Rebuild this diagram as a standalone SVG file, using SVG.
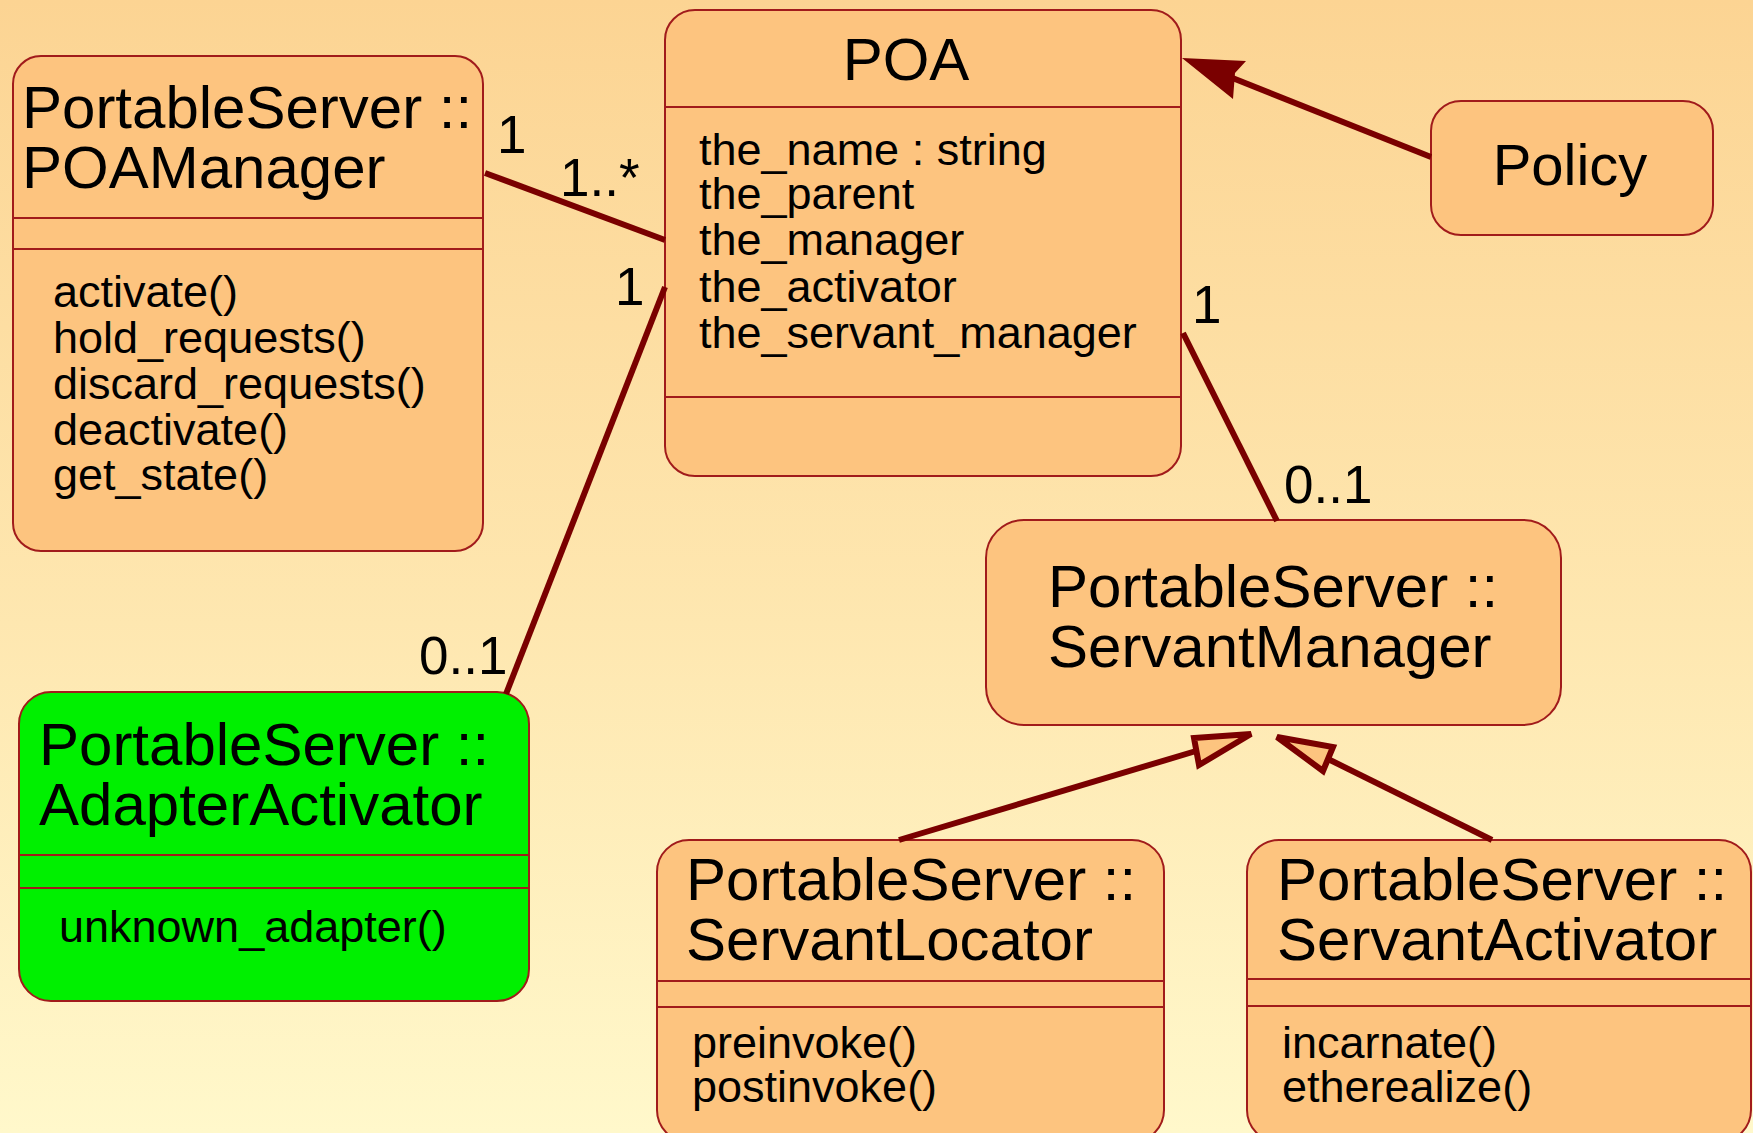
<svg xmlns="http://www.w3.org/2000/svg" width="1753" height="1133" viewBox="0 0 1753 1133">
  <defs>
    <linearGradient id="bg" x1="0" y1="0" x2="0" y2="1">
      <stop offset="0" stop-color="#FCD493"/>
      <stop offset="0.55" stop-color="#FEE7B0"/>
      <stop offset="1" stop-color="#FFF8CB"/>
    </linearGradient>
    <style>
      .box { fill: #FDC47F; stroke: #A11B1B; stroke-width: 2; }
      .green { fill: #00F000; stroke: #A11B1B; stroke-width: 2; }
      .div { stroke: #A11B1B; stroke-width: 2; fill: none; }
      .title { font-family: "Liberation Sans", Arial, sans-serif; font-size: 60px; fill: #000; }
      .member { font-family: "Liberation Sans", Arial, sans-serif; font-size: 45px; fill: #000; }
      .mult { font-family: "Liberation Sans", Arial, sans-serif; font-size: 53px; fill: #000; }
      .assoc { stroke: #7A0000; stroke-width: 6; fill: none; stroke-linecap: butt; }
      .headfill { fill: #7A0000; stroke: none; }
      .gen { fill: #FDC47F; stroke: #7A0000; stroke-width: 6; stroke-linejoin: miter; }
    </style>
  </defs>

  <rect x="0" y="0" width="1753" height="1133" fill="url(#bg)"/>

  <!-- class: PortableServer::POAManager -->
  <g id="poa-manager">
    <rect class="box" x="13" y="56" width="470" height="495" rx="28" ry="28"/>
    <line class="div" x1="13" y1="218" x2="483" y2="218"/>
    <line class="div" x1="13" y1="249" x2="483" y2="249"/>
    <text class="title" x="22" y="128">PortableServer ::</text>
    <text class="title" x="22" y="188">POAManager</text>
    <text class="member" x="53" y="307">activate()</text>
    <text class="member" x="53" y="353">hold_requests()</text>
    <text class="member" x="53" y="399">discard_requests()</text>
    <text class="member" x="53" y="445">deactivate()</text>
    <text class="member" x="53" y="490">get_state()</text>
  </g>

  <!-- class: POA -->
  <g id="poa">
    <rect class="box" x="665" y="10" width="516" height="466" rx="30" ry="30"/>
    <line class="div" x1="665" y1="107" x2="1181" y2="107"/>
    <line class="div" x1="665" y1="397" x2="1181" y2="397"/>
    <text class="title" x="906" y="80" text-anchor="middle">POA</text>
    <text class="member" x="699" y="165">the_name : string</text>
    <text class="member" x="699" y="209">the_parent</text>
    <text class="member" x="699" y="255">the_manager</text>
    <text class="member" x="699" y="302">the_activator</text>
    <text class="member" x="699" y="348">the_servant_manager</text>
  </g>

  <!-- class: Policy -->
  <g id="policy">
    <rect class="box" x="1431" y="101" width="282" height="134" rx="30" ry="30"/>
    <text class="title" x="1570" y="185" text-anchor="middle" style="font-size:58px">Policy</text>
  </g>

  <!-- class: PortableServer::ServantManager -->
  <g id="servant-manager">
    <rect class="box" x="986" y="520" width="575" height="205" rx="38" ry="38"/>
    <text class="title" x="1048" y="607">PortableServer ::</text>
    <text class="title" x="1048" y="667">ServantManager</text>
  </g>

  <!-- class: PortableServer::AdapterActivator -->
  <g id="adapter-activator">
    <rect class="green" x="19" y="692" width="510" height="309" rx="32" ry="32"/>
    <line class="div" x1="19" y1="855" x2="529" y2="855"/>
    <line class="div" x1="19" y1="888" x2="529" y2="888"/>
    <text class="title" x="39" y="765">PortableServer ::</text>
    <text class="title" x="39" y="825">AdapterActivator</text>
    <text class="member" x="59" y="942">unknown_adapter()</text>
  </g>

  <!-- class: PortableServer::ServantLocator -->
  <g id="servant-locator">
    <rect class="box" x="657" y="840" width="507" height="302" rx="32" ry="32"/>
    <line class="div" x1="657" y1="981" x2="1164" y2="981"/>
    <line class="div" x1="657" y1="1007" x2="1164" y2="1007"/>
    <text class="title" x="686" y="900">PortableServer ::</text>
    <text class="title" x="686" y="960">ServantLocator</text>
    <text class="member" x="692" y="1058">preinvoke()</text>
    <text class="member" x="692" y="1102">postinvoke()</text>
  </g>

  <!-- class: PortableServer::ServantActivator -->
  <g id="servant-activator">
    <rect class="box" x="1247" y="840" width="504" height="302" rx="32" ry="32"/>
    <line class="div" x1="1247" y1="979" x2="1751" y2="979"/>
    <line class="div" x1="1247" y1="1006" x2="1751" y2="1006"/>
    <text class="title" x="1277" y="900">PortableServer ::</text>
    <text class="title" x="1277" y="960">ServantActivator</text>
    <text class="member" x="1282" y="1058">incarnate()</text>
    <text class="member" x="1282" y="1102">etherealize()</text>
  </g>

  <!-- associations, dependency and generalizations -->
  <g id="connectors">
    <!-- POAManager 1 — 1..* POA -->
    <line class="assoc" x1="485" y1="173" x2="665" y2="240"/>
    <text class="mult" x="497" y="153">1</text>
    <text class="mult" x="560" y="196">1..*</text>

    <!-- POA 1 — 0..1 AdapterActivator -->
    <line class="assoc" x1="665" y1="287" x2="506" y2="694"/>
    <text class="mult" x="615" y="305">1</text>
    <text class="mult" x="419" y="674">0..1</text>

    <!-- POA 1 — 0..1 ServantManager -->
    <line class="assoc" x1="1183" y1="333" x2="1277" y2="521"/>
    <text class="mult" x="1192" y="323">1</text>
    <text class="mult" x="1284" y="503">0..1</text>

    <!-- Policy → POA -->
    <line class="assoc" x1="1431" y1="157" x2="1230" y2="77"/>
    <polygon class="headfill" points="1182,58 1246,61 1235,73 1233,99"/>

    <!-- ServantLocator ▷ ServantManager -->
    <line class="assoc" x1="899" y1="840" x2="1196" y2="751"/>
    <polygon class="gen" points="1251,734 1194,738 1199,765"/>

    <!-- ServantActivator ▷ ServantManager -->
    <line class="assoc" x1="1492" y1="840" x2="1328" y2="759"/>
    <polygon class="gen" points="1277,737 1333,747 1323,771"/>
  </g>
</svg>
